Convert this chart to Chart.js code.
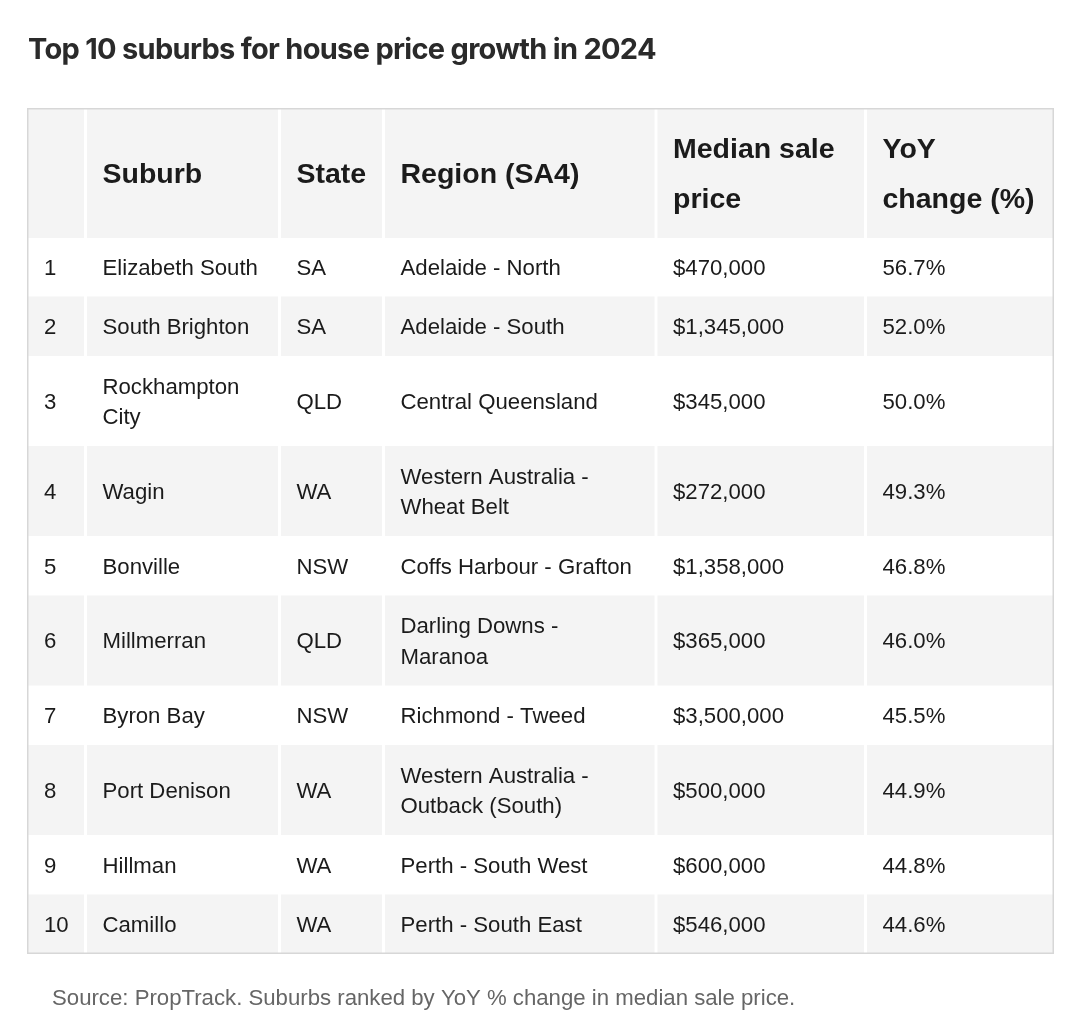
<!DOCTYPE html>
<html>
<head>
<meta charset="utf-8">
<script src="https://cdn.jsdelivr.net/npm/chart.js@4.4.1/dist/chart.umd.min.js"></script>
<style>
html,body{margin:0;padding:0;background:#fff;}
canvas{display:block;}
</style>
</head>
<body>
<canvas id="c" width="1080" height="1027"></canvas>
<script>
// ---- data ----
const titleText = 'Top 10 suburbs for house price growth in 2024';
const sourceText = 'Source: PropTrack. Suburbs ranked by YoY % change in median sale price.';
const headers = ['', 'Suburb', 'State', 'Region (SA4)', 'Median sale price', 'YoY change (%)'];
const ranks = [1, 2, 3, 4, 5, 6, 7, 8, 9, 10];
const suburbs = ['Elizabeth South', 'South Brighton', 'Rockhampton City', 'Wagin', 'Bonville', 'Millmerran', 'Byron Bay', 'Port Denison', 'Hillman', 'Camillo'];
const states = ['SA', 'SA', 'QLD', 'WA', 'NSW', 'QLD', 'NSW', 'WA', 'WA', 'WA'];
const regions = ['Adelaide - North', 'Adelaide - South', 'Central Queensland', 'Western Australia - Wheat Belt', 'Coffs Harbour - Grafton', 'Darling Downs - Maranoa', 'Richmond - Tweed', 'Western Australia - Outback (South)', 'Perth - South West', 'Perth - South East'];
const medianPrices = [470000, 1345000, 345000, 272000, 1358000, 365000, 3500000, 500000, 600000, 546000];
const yoyChange = [56.7, 52.0, 50.0, 49.3, 46.8, 46.0, 45.5, 44.9, 44.8, 44.6];

// ---- layout / style ----
const W = 1080, H = 1027;
const TABLE_LEFT = 27, TABLE_TOP = 108;
const colWidths = [58.5, 194, 104, 272.5, 209.5, 188.5];
const CELL_PAD_X = 17;
const CELL_PAD_Y = 29;
const BODY_FONT_SIZE = 22.2, BODY_LH = 30.5;
const HEAD_FONT_SIZE = 28.5, HEAD_LH = 50;
const FAMILY = '"Liberation Sans", Arial, Helvetica, sans-serif';
const BODY_FONT = BODY_FONT_SIZE + 'px ' + FAMILY;
const HEAD_FONT = 'bold ' + HEAD_FONT_SIZE + 'px ' + FAMILY;
const TEXT_COLOR = '#1b1b1b';
const STRIPE = '#f4f4f4';
const BORDER = '#d7d7d7';

const fmtPrice = v => '$' + v.toLocaleString('en-US');
const fmtPct = v => v.toFixed(1) + '%';

const rowsText = [headers].concat(ranks.map((r, i) => [
  String(r), suburbs[i], states[i], regions[i], fmtPrice(medianPrices[i]), fmtPct(yoyChange[i])
]));

// measure & wrap
const mctx = document.createElement('canvas').getContext('2d');
function wrap(text, font, maxW) {
  mctx.font = font;
  const words = text.split(' ');
  const lines = [];
  let cur = '';
  for (const w of words) {
    const t = cur ? cur + ' ' + w : w;
    if (cur && mctx.measureText(t).width > maxW) { lines.push(cur); cur = w; }
    else cur = t;
  }
  if (cur) lines.push(cur);
  return lines;
}
const cellLines = rowsText.map((row, ri) => row.map((txt, ci) =>
  wrap(txt, ri === 0 ? HEAD_FONT : BODY_FONT, colWidths[ci] - 2 * 16)));
const rowHeights = cellLines.map((row, ri) => {
  const n = Math.max(...row.map(l => l.length));
  return n * (ri === 0 ? HEAD_LH : BODY_LH) + CELL_PAD_Y;
});
const colEdges = [0]; colWidths.forEach(w => colEdges.push(colEdges[colEdges.length - 1] + w));
const rowEdges = [0]; rowHeights.forEach(h => rowEdges.push(rowEdges[rowEdges.length - 1] + h));
const tableW = colEdges[colEdges.length - 1];
const tableH = rowEdges[rowEdges.length - 1];

const tablePlugin = {
  id: 'tablePlugin',
  afterDraw(chart) {
    const ctx = chart.ctx;
    const xs = chart.scales.x, ys = chart.scales.y;
    const nCols = colWidths.length;
    ctx.save();
    // stripes
    for (let r = 0; r < rowsText.length; r++) {
      if (r % 2 !== 0) continue; // header and even-numbered ranks grey
      const y0 = ys.getPixelForValue(rowEdges[r]);
      const y1 = ys.getPixelForValue(rowEdges[r + 1]);
      for (let c = 0; c < nCols; c++) {
        let x0 = xs.getPixelForValue(colEdges[c]);
        let x1 = xs.getPixelForValue(colEdges[c + 1]);
        x0 += (c === 0) ? 1 : 1.5;
        x1 -= (c === nCols - 1) ? 1 : 1.5;
        ctx.fillStyle = STRIPE;
        ctx.fillRect(x0, y0 + (r === 0 ? 1 : 0), x1 - x0, y1 - y0 - (r === rowsText.length - 1 ? 1 : 0));
      }
    }
    // border
    const L = xs.getPixelForValue(0), R = xs.getPixelForValue(tableW);
    const T = ys.getPixelForValue(0), B = ys.getPixelForValue(tableH);
    ctx.strokeStyle = BORDER;
    ctx.lineWidth = 1.5;
    ctx.strokeRect(L + 0.75, T + 0.75, R - L - 1.5, B - T - 1.5);
    // text
    ctx.fillStyle = TEXT_COLOR;
    ctx.textAlign = 'left';
    ctx.textBaseline = 'alphabetic';
    for (let r = 0; r < rowsText.length; r++) {
      const isHead = r === 0;
      const fs = isHead ? HEAD_FONT_SIZE : BODY_FONT_SIZE;
      const lh = isHead ? HEAD_LH : BODY_LH;
      ctx.font = isHead ? HEAD_FONT : BODY_FONT;
      const yc = (ys.getPixelForValue(rowEdges[r]) + ys.getPixelForValue(rowEdges[r + 1])) / 2;
      for (let c = 0; c < nCols; c++) {
        const lines = cellLines[r][c];
        const x = xs.getPixelForValue(colEdges[c]) + CELL_PAD_X;
        lines.forEach((ln, k) => {
          const cy = yc + (k - (lines.length - 1) / 2) * lh;
          ctx.fillText(ln, x, cy + 0.358 * fs);
        });
      }
    }
    // title
    ctx.fillStyle = '#2a2a2a';
    ctx.font = 'bold 29px Inter, "Liberation Sans", sans-serif';
    try { ctx.letterSpacing = '-0.7px'; } catch (e) {}
    ctx.fillText(titleText, 28, 59);
    try { ctx.letterSpacing = '0px'; } catch (e) {}
    // source
    ctx.fillStyle = '#666666';
    ctx.font = '22.2px ' + FAMILY;
    ctx.fillText(sourceText, 52, 1005);
    ctx.restore();
  }
};

new Chart(document.getElementById('c'), {
  type: 'scatter',
  data: { datasets: [] },
  options: {
    responsive: false,
    devicePixelRatio: 1,
    animation: false,
    layout: { padding: { left: TABLE_LEFT, top: TABLE_TOP, right: W - TABLE_LEFT - tableW, bottom: H - TABLE_TOP - tableH } },
    plugins: { legend: { display: false }, tooltip: { enabled: false }, title: { display: false } },
    scales: {
      x: { type: 'linear', min: 0, max: tableW, display: false },
      y: { type: 'linear', min: 0, max: tableH, reverse: true, display: false }
    }
  },
  plugins: [tablePlugin]
});
</script>
</body>
</html>
